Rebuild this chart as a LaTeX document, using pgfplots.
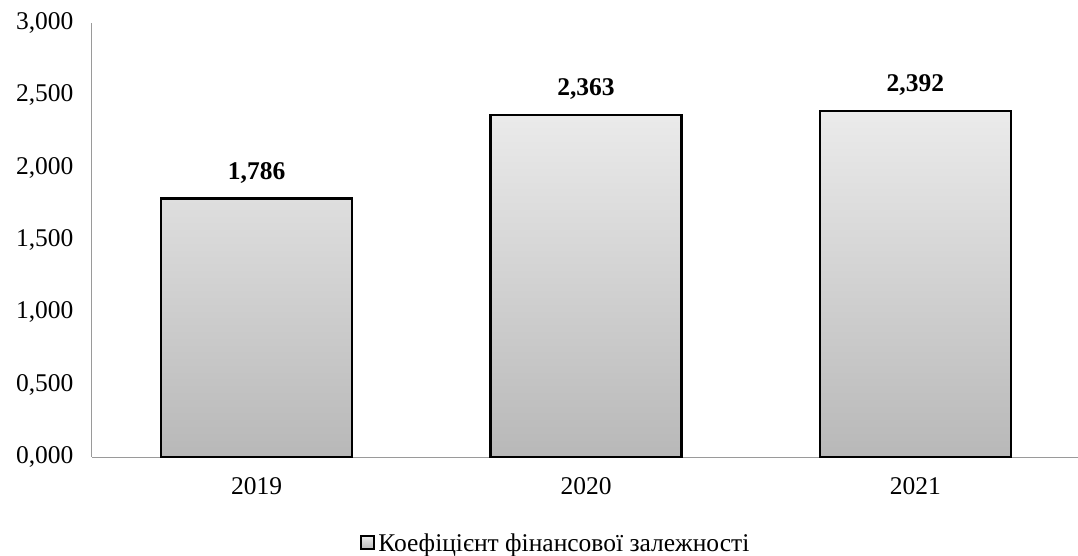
\documentclass[border=0pt]{standalone}
\usepackage{pgfplots}
\pgfplotsset{compat=1.18}
\usepackage{fontspec}
\setmainfont{Liberation Serif}

\definecolor{barTop}{HTML}{EBEBEB}
\definecolor{barBottom}{HTML}{B8B8B8}
\definecolor{axisGray}{HTML}{9A9A9A}

\begin{document}
\begin{tikzpicture}[font=\fontsize{25.5bp}{30bp}\selectfont]
\useasboundingbox (-92bp,-99bp) rectangle (986bp,457bp);
\begin{axis}[
  at={(0,0)}, anchor=south west,
  scale only axis,
  width=988bp, height=434bp,
  xmin=-0.5, xmax=2.5,
  ymin=0, ymax=3,
  ytick={0,0.5,1,1.5,2,2.5,3},
  xtick={0,1,2},
  xticklabels={2019,2020,2021},
  major tick length=0pt,
  axis x line*=bottom,
  axis y line*=left,
  axis line style={-, draw=axisGray, line width=1bp},
  /pgf/number format/assume math mode=true,
  yticklabel style={xshift=-15bp,
    /pgf/number format/use comma, /pgf/number format/fixed,
    /pgf/number format/fixed zerofill, /pgf/number format/precision=3,
    /pgf/number format/1000 sep={}},
  xticklabel style={yshift=-17bp},
  legend style={at={(0.47,-0.198)}, anchor=center, draw=none, fill=none,
    legend cell align=left, inner sep=0pt,
    nodes={inner xsep=3bp}},
  legend image code/.code={
    \draw[black, line width=2bp, fill=barTop!75!barBottom] (0bp,-6.5bp) rectangle (13bp,6.5bp);
  },
]
\addplot[
  ybar, bar width=191bp,
  draw=black, line width=2.6bp,
  top color=barTop, bottom color=barBottom,
  nodes near coords,
  nodes near coords style={font=\fontsize{25.5bp}{30bp}\selectfont\bfseries, yshift=11bp,
    /pgf/number format/use comma, /pgf/number format/fixed,
    /pgf/number format/fixed zerofill, /pgf/number format/precision=3},
] coordinates {(0,1.786) (1,2.363) (2,2.392)};
\addlegendentry{Коефіцієнт фінансової залежності}
\end{axis}
\end{tikzpicture}
\end{document}
